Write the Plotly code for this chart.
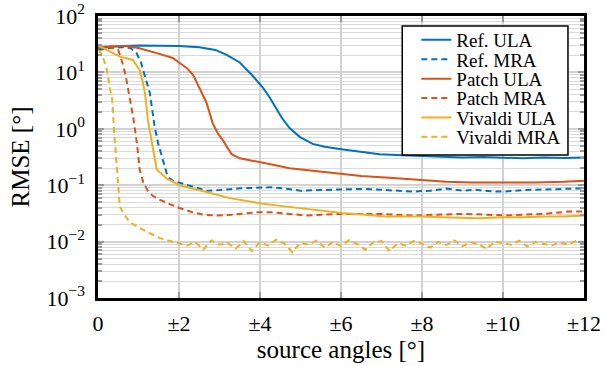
import plotly.graph_objects as go

# ---- data ----
ref_ula_x = [0, 0.2, 0.5, 1.0, 1.5, 2.0, 2.5, 2.9, 3.2, 3.5, 3.8, 4.06, 4.24, 4.4, 4.53, 4.73, 4.98, 5.3, 5.6, 5.96,
             6.5, 6.95, 7.5, 8, 8.5, 9, 9.5, 10, 10.5, 11, 11.5, 12]
ref_ula_y = [27, 28, 29, 30, 30, 29.5, 28, 25, 20, 15, 9, 5.5, 3.6, 2.3, 1.6, 1.03, 0.72, 0.54, 0.48, 0.44,
             0.39, 0.355, 0.34, 0.33, 0.32, 0.31, 0.315, 0.31, 0.30, 0.31, 0.305, 0.31]

ref_mra_x = [0, 0.3, 0.6, 0.8, 0.95, 1.05, 1.15, 1.28, 1.4, 1.5, 1.58, 1.72, 1.85, 2.02, 2.3, 2.68, 3.0, 3.5, 3.9,
             4.3, 4.7, 5.0, 5.5, 6.0, 6.5, 7.0, 7.5, 7.76, 8.2, 8.6, 9.0, 9.3, 9.7, 10.0, 10.5, 11.1, 11.5, 12]
ref_mra_y = [25, 27, 28, 27, 22, 16, 9, 4.3, 1.07, 0.5, 0.32, 0.14, 0.12, 0.11, 0.095, 0.08, 0.082, 0.088, 0.09,
             0.092, 0.086, 0.08, 0.082, 0.084, 0.086, 0.083, 0.08, 0.077, 0.08, 0.087, 0.08, 0.083, 0.078, 0.077,
             0.082, 0.085, 0.086, 0.088]

patch_ula_x = [0, 0.3, 0.71, 1.0, 1.45, 1.85, 2.0, 2.19, 2.35, 2.44, 2.56, 2.68, 2.83, 2.95, 3.08, 3.2, 3.3, 3.5,
               3.74, 4.2, 4.73, 5.3, 5.96, 6.5, 7.19, 7.8, 8.6, 9.2, 10.2, 10.8, 11.5, 12]
patch_ula_y = [28, 29, 29, 27, 22, 18, 15, 12, 9, 6.5, 4.5, 2.9, 1.26, 0.85, 0.63, 0.45, 0.355, 0.3,
               0.28, 0.24, 0.2, 0.18, 0.158, 0.145, 0.135, 0.125, 0.115, 0.112, 0.11, 0.112, 0.115, 0.12]

patch_mra_x = [0, 0.3, 0.5, 0.6, 0.68, 0.75, 0.87, 0.96, 1.03, 1.12, 1.23, 1.35, 1.53, 1.94, 2.34, 2.6, 2.93, 3.3,
               3.9, 4.3, 4.7, 5.15, 5.5, 5.96, 6.5, 7.0, 7.76, 8.4, 9.0, 9.6, 10.07, 10.5, 11.0, 11.6, 12]
patch_mra_y = [28, 28, 25, 15, 9, 4.9, 1.6, 0.56, 0.19, 0.11, 0.08, 0.065, 0.055, 0.041, 0.033, 0.03, 0.029, 0.03,
               0.033, 0.033, 0.031, 0.029, 0.03, 0.031, 0.031, 0.031, 0.029, 0.03, 0.031, 0.03, 0.029, 0.03,
               0.031, 0.034, 0.034]

viv_ula_x = [0, 0.22, 0.54, 0.86, 1.03, 1.1, 1.16, 1.23, 1.33, 1.45, 1.7, 2.02, 2.3, 2.68, 3.25, 3.99, 4.5, 5.15,
             6.03, 7.12, 8, 8.5, 9.4, 10, 10.5, 11, 11.5, 12]
viv_ula_y = [30, 25, 19, 16.6, 11, 7, 4.3, 1.45, 0.56, 0.19, 0.13, 0.1, 0.088, 0.076, 0.059, 0.048, 0.043, 0.038,
             0.032, 0.028, 0.028, 0.027, 0.026, 0.027, 0.027, 0.028, 0.028, 0.029]

viv_mra_x = [0, 0.08, 0.12, 0.22, 0.3, 0.35, 0.4, 0.47, 0.54, 0.65, 0.79, 1.0, 1.2, 1.53, 1.94,
             2.2, 2.4, 2.6, 2.8, 3.0, 3.2, 3.4, 3.6, 3.8, 4.0, 4.2, 4.4, 4.6, 4.8, 5.0, 5.2, 5.4, 5.6, 5.8,
             6.0, 6.2, 6.4, 6.6, 6.8, 7.0, 7.2, 7.4, 7.6, 7.8, 8.0, 8.2, 8.4, 8.6, 8.8, 9.0, 9.2, 9.4, 9.6,
             9.8, 10.0, 10.2, 10.4, 10.6, 10.8, 11.0, 11.2, 11.4, 11.6, 11.8, 12.0]
viv_mra_y = [25, 22, 19, 11, 5, 3.3, 0.85, 0.17, 0.041, 0.03, 0.022, 0.018, 0.015, 0.0115, 0.0095,
             0.0085, 0.0098, 0.0072, 0.0105, 0.0088, 0.0095, 0.0075, 0.0102, 0.0068, 0.0098, 0.0085, 0.0108,
             0.0092, 0.0065, 0.0095, 0.0088, 0.0104, 0.0078, 0.0099, 0.0083, 0.0106, 0.0090, 0.0072, 0.0097,
             0.0102, 0.0068, 0.0094, 0.0085, 0.0103, 0.0092, 0.0078, 0.0099, 0.0087, 0.0105, 0.0083, 0.0097,
             0.0090, 0.0074, 0.0101, 0.0093, 0.0088, 0.0104, 0.0082, 0.0098, 0.0091, 0.0085, 0.0097, 0.0089,
             0.0102, 0.0096]

x_tickvals = [0, 2, 4, 6, 8, 10, 12]
x_ticktext = ["0", "±2", "±4", "±6", "±8", "±10", "±12"]
y_tickvals = [1e-3, 1e-2, 1e-1, 1e0, 1e1, 1e2]
y_ticktext = ["10<sup>−3</sup>", "10<sup>−2</sup>", "10<sup>−1</sup>", "10<sup>0</sup>", "10<sup>1</sup>", "10<sup>2</sup>"]

BLUE = "#0072BD"
RED = "#D95319"
YELLOW = "#EDB120"

series = [
    ("Ref. ULA", ref_ula_x, ref_ula_y, BLUE, "solid"),
    ("Ref. MRA", ref_mra_x, ref_mra_y, BLUE, "6px,4px"),
    ("Patch ULA", patch_ula_x, patch_ula_y, RED, "solid"),
    ("Patch MRA", patch_mra_x, patch_mra_y, RED, "6px,4px"),
    ("Vivaldi ULA", viv_ula_x, viv_ula_y, YELLOW, "solid"),
    ("Vivaldi MRA", viv_mra_x, viv_mra_y, YELLOW, "6px,4px"),
]

FONT = "'Liberation Serif', 'Times New Roman', serif"
LEG_FONT = 19
PLOT_H = 282.0
legend_names = ["legend", "legend2", "legend3", "legend4", "legend5", "legend6"]

fig = go.Figure()
for i, (name, xs, ys, col, dash) in enumerate(series):
    fig.add_trace(go.Scatter(x=xs, y=ys, mode="lines", name=name, legend=legend_names[i],
                             line=dict(color=col, width=2, dash=dash)))

# one single-entry legend per trace so the row spacing can match the reference
legend_layout = {}
for i, ln in enumerate(legend_names):
    row_y_px = 24 + i * 19.4  # distance from plot top
    legend_layout[ln] = dict(
        x=0.655, y=1 - row_y_px / PLOT_H, xanchor="left", yanchor="middle",
        bgcolor="rgba(0,0,0,0)", borderwidth=0,
        font=dict(family=FONT, size=LEG_FONT, color="black"),
        itemwidth=30,
    )

fig.update_layout(
    width=605, height=366,
    margin=dict(l=98, r=21, t=16, b=68, autoexpand=False),
    paper_bgcolor="white", plot_bgcolor="white",
    font=dict(family=FONT, size=16, color="black"),
    showlegend=True,
    **legend_layout,
    shapes=[dict(type="rect", xref="paper", yref="paper",
                 x0=0.626, x1=0.967, y0=1 - 139 / PLOT_H, y1=1 - 10 / PLOT_H,
                 fillcolor="white", line=dict(color="black", width=1.5), layer="above")],
)
fig.update_xaxes(
    range=[0, 12], tickvals=x_tickvals, ticktext=x_ticktext,
    showgrid=True, gridcolor="#d2d2d2", gridwidth=1.5,
    showline=True, linecolor="black", linewidth=2.5, mirror="ticks",
    ticks="inside", ticklen=6, tickcolor="#999999", tickwidth=1.5,
    zeroline=False, automargin=False,
    title=dict(text="source angles [°]", font=dict(family=FONT, size=25), standoff=6),
    tickfont=dict(family=FONT, size=22), ticklabelstandoff=4,
)
fig.update_yaxes(
    type="log", range=[-3, 2], tickvals=y_tickvals, ticktext=y_ticktext,
    showgrid=True, gridcolor="#d2d2d2", gridwidth=1.5,
    showline=True, linecolor="black", linewidth=2.5, mirror="ticks",
    ticks="inside", ticklen=6, tickcolor="#999999", tickwidth=1.5,
    minor=dict(dtick="D1", showgrid=True, gridcolor="#dadada", gridwidth=1.2,
               ticks="inside", ticklen=4, tickcolor="#999999"),
    zeroline=False, automargin=False,
    title=dict(text="RMSE [°]", font=dict(family=FONT, size=25), standoff=10),
    tickfont=dict(family=FONT, size=22), ticklabelstandoff=6,
)

fig.write_html("out.html", config={"displayModeBar": False},
               post_script="document.body.style.margin='0';")
